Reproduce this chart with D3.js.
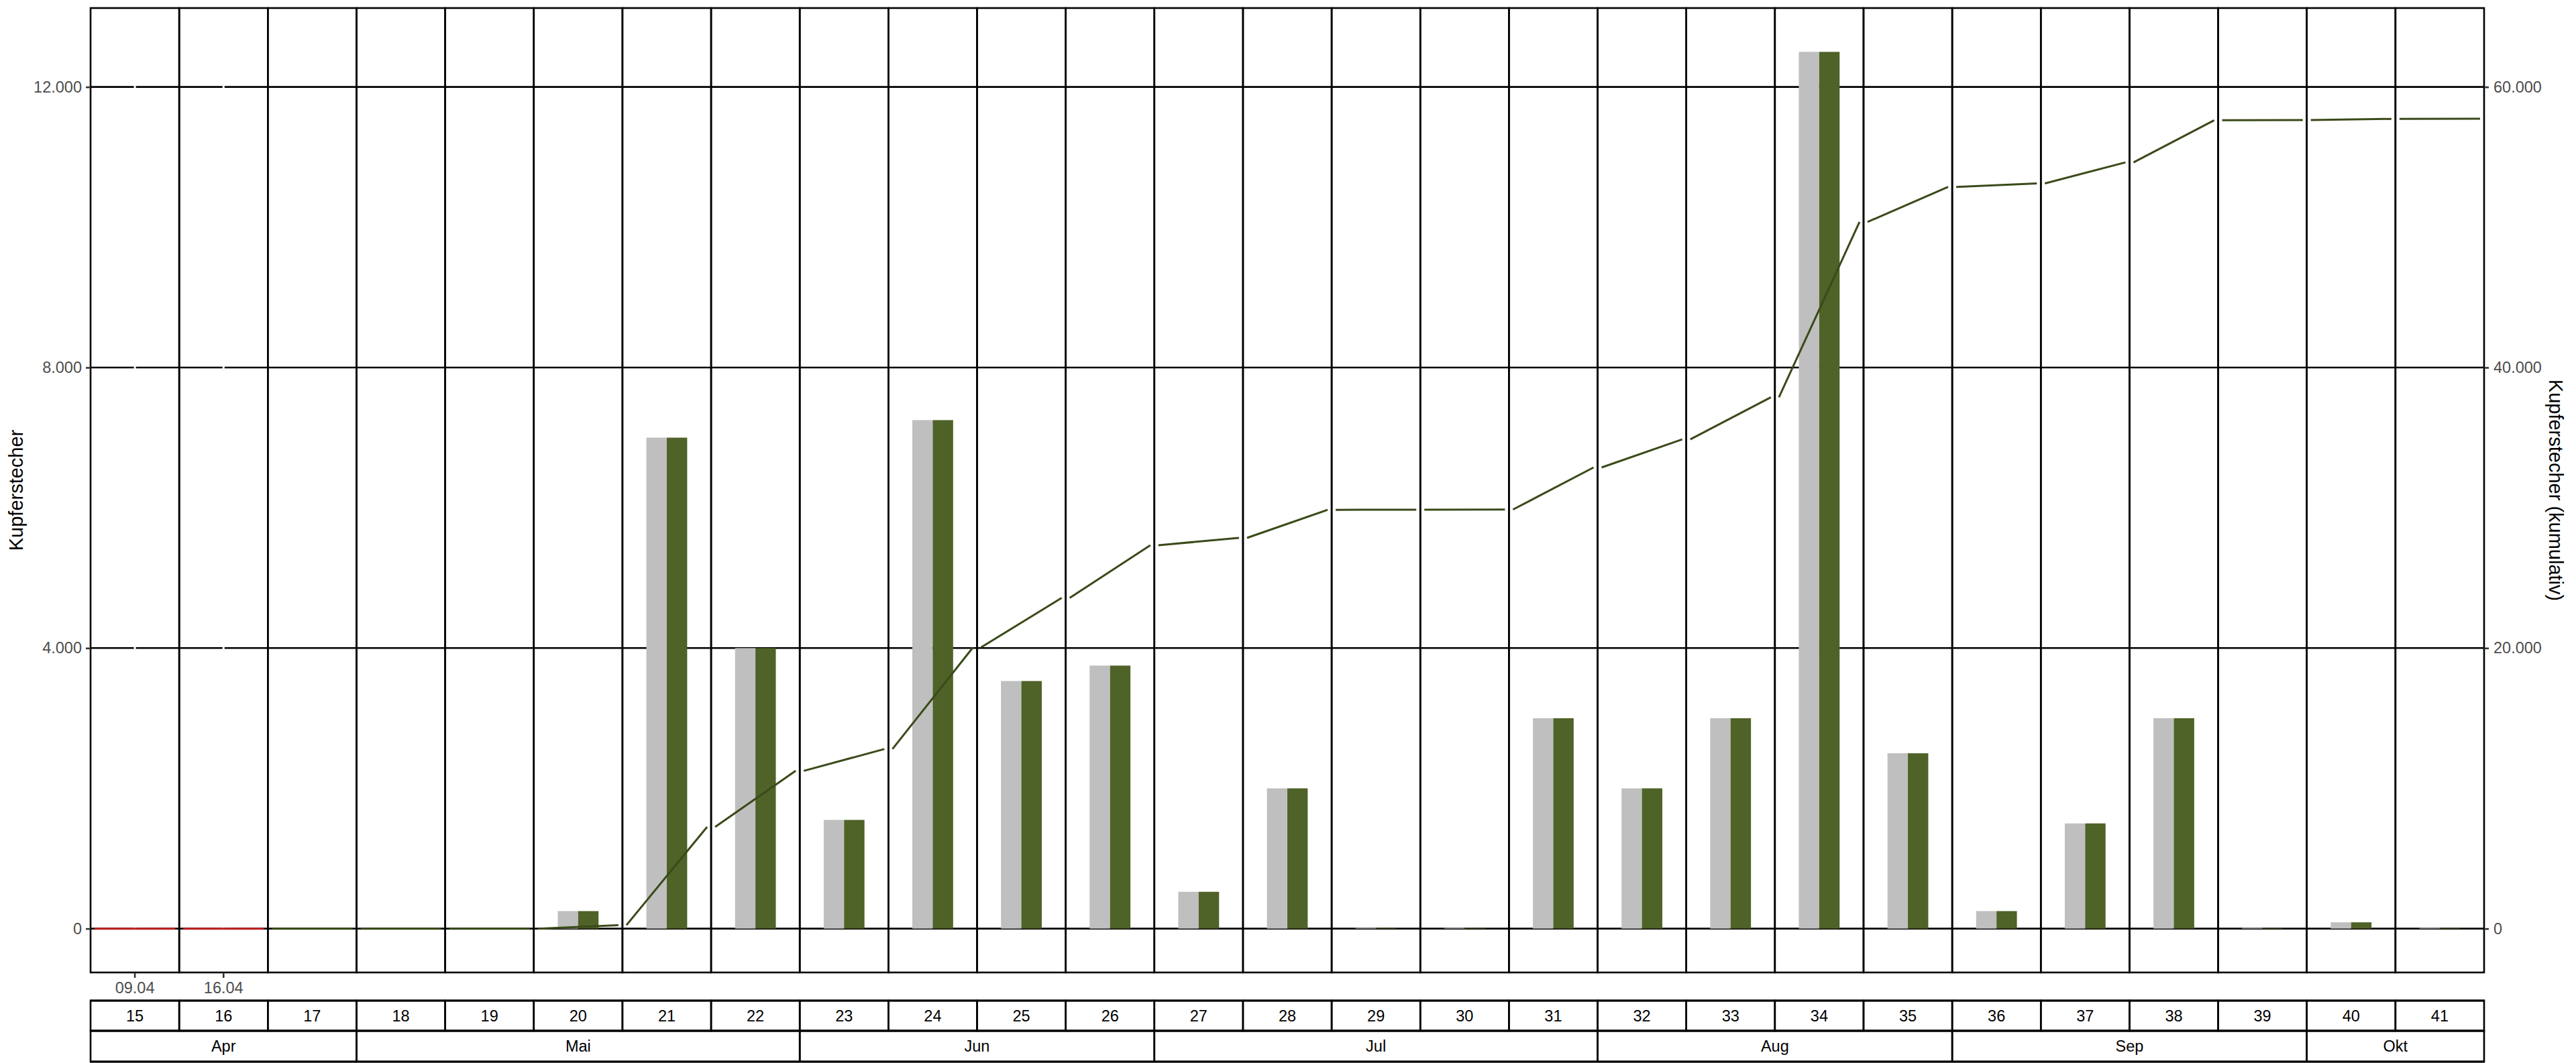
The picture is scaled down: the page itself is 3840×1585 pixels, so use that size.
<!DOCTYPE html>
<html>
<head>
<meta charset="utf-8">
<script src="https://cdn.jsdelivr.net/npm/d3@7"></script>
<style>
  body { margin: 0; background: #fff; }
  text { font-family: "Liberation Sans", Arial, sans-serif; }
</style>
</head>
<body>
<div id="chart"></div>
<script>
// Kalenderwochen
const weeks = [15, 16, 17, 18, 19, 20, 21, 22, 23, 24, 25, 26, 27, 28, 29, 30, 31, 32, 33, 34, 35, 36, 37, 38, 39, 40, 41];
// Kupferstecher je Woche (grau / grün, gleiche Werte)
const greyValues  = [0, 0, 0, 0, 0, 250, 7000, 4000, 1550, 7250, 3530, 3750, 525, 2000, 10, 10, 3000, 2000, 3000, 12500, 2500, 250, 1500, 3000, 10, 90, 10];
const greenValues = [0, 0, 0, 0, 0, 250, 7000, 4000, 1550, 7250, 3530, 3750, 525, 2000, 10, 10, 3000, 2000, 3000, 12500, 2500, 250, 1500, 3000, 10, 90, 10];
// kumuliert, Stand am Wochenende
const cumValues = [0, 0, 0, 0, 0, 250, 7250, 11250, 12800, 20050, 23580, 27330, 27855, 29855, 29865, 29875, 32875, 34875, 37875, 50375, 52875, 53125, 54625, 57625, 57635, 57725, 57735];
// Wochen ohne Saison (rote Linie)
const redWeeks = [15, 16];

const leftTicks = [0, 4000, 8000, 12000];
const rightTicks = [0, 20000, 40000, 60000];
const dateTickWeeks = [15, 16];
const dateTickLabels = ['09.04', '16.04'];

const monthNames = ['Apr', 'Mai', 'Jun', 'Jul', 'Aug', 'Sep', 'Okt'];
const monthFirstWeek = [15, 18, 23, 27, 32, 36, 40];
const monthLastWeek  = [17, 22, 26, 31, 35, 39, 41];

const W = 3840, H = 1585;
const margin = {top: 12, right: 137, bottom: 135, left: 135};
const plotLeft = margin.left, plotRight = W - margin.right;
const plotTop = margin.top, plotBottom = H - margin.bottom;

const de = d3.formatLocale({decimal: ',', thousands: '.', grouping: [3], currency: ['', ' €']});
const fmt = de.format(',');

const svg = d3.select('#chart').append('svg')
    .attr('width', W).attr('height', H);

const x = d3.scaleBand()
    .domain(weeks)
    .range([plotLeft, plotRight])
    .padding(0);

const y = d3.scaleLinear()
    .domain([-625, 13125])
    .range([plotBottom, plotTop]);

const yCum = d3.scaleLinear()
    .domain([-3125, 65625])
    .range([plotBottom, plotTop]);

const bw = x.bandwidth();
const sub = d3.scaleBand()
    .domain(['grey', 'green'])
    .range([bw / 2 - bw * 0.23, bw / 2 + bw * 0.23]);
const subColor = d3.scaleOrdinal().domain(['grey', 'green']).range(['#BFBFBF', '#4F6228']);

// Tage innerhalb einer Woche (Mo..So) mit 5% Erweiterung
const day = d3.scaleLinear().domain([-0.3, 6.3]).range([0, bw]);

// horizontale Gitterlinien
svg.append('g')
    .selectAll('line')
    .data(leftTicks)
    .enter().append('line')
    .attr('x1', plotLeft).attr('x2', plotRight)
    .attr('y1', d => y(d)).attr('y2', d => y(d))
    .attr('stroke', '#000').attr('stroke-width', 2.6);

// weiße x-Gitterlinien an den Datums-Ticks
svg.append('g')
    .selectAll('line')
    .data(dateTickWeeks)
    .enter().append('line')
    .attr('x1', d => x(d) + day(3)).attr('x2', d => x(d) + day(3))
    .attr('y1', plotTop).attr('y2', plotBottom)
    .attr('stroke', '#fff').attr('stroke-width', 3);

// Balken
const barData = [];
weeks.forEach((w, i) => {
    barData.push({week: w, key: 'grey', value: greyValues[i]});
    barData.push({week: w, key: 'green', value: greenValues[i]});
});

svg.append('g')
    .selectAll('rect')
    .data(barData)
    .enter().append('rect')
    .attr('x', d => x(d.week) + sub(d.key))
    .attr('width', sub.bandwidth())
    .attr('y', d => y(d.value))
    .attr('height', d => y(0) - y(d.value))
    .attr('fill', d => subColor(d.key));

// kumulierte Linie, je Woche ein Segment
const segs = weeks.map((w, i) => ({
    week: w,
    from: i === 0 ? 0 : cumValues[i - 1],
    to: cumValues[i],
    red: redWeeks.includes(w)
}));

svg.append('g')
    .selectAll('line')
    .data(segs)
    .enter().append('line')
    .attr('x1', d => x(d.week) + day(0))
    .attr('x2', d => x(d.week) + day(6))
    .attr('y1', d => yCum(d.from))
    .attr('y2', d => yCum(d.to))
    .attr('stroke', d => d.red ? '#C0201E' : '#3A4A1A')
    .attr('stroke-width', 3);

// Panel-Rahmen
svg.append('g')
    .selectAll('rect')
    .data(weeks)
    .enter().append('rect')
    .attr('x', d => x(d)).attr('width', bw)
    .attr('y', plotTop).attr('height', plotBottom - plotTop)
    .attr('fill', 'none')
    .attr('stroke', '#000').attr('stroke-width', 2.6);

// Achsen
const leftAxis = svg.append('g')
    .attr('transform', 'translate(' + plotLeft + ',0)')
    .call(d3.axisLeft(y).tickValues(leftTicks).tickFormat(fmt).tickSize(7).tickPadding(6));

const rightAxis = svg.append('g')
    .attr('transform', 'translate(' + plotRight + ',0)')
    .call(d3.axisRight(yCum).tickValues(rightTicks).tickFormat(fmt).tickSize(7).tickPadding(7));

const bottomAxis = svg.append('g')
    .attr('transform', 'translate(0,' + plotBottom + ')')
    .call(d3.axisBottom(x).tickValues(dateTickWeeks)
        .tickFormat((d, i) => dateTickLabels[i]).tickSize(8).tickPadding(6)
        .offset(0));
bottomAxis.selectAll('.tick').attr('transform', d => 'translate(' + (x(d) + day(3)) + ',0)');

[leftAxis, rightAxis, bottomAxis].forEach(a => {
    a.select('.domain').remove();
    a.selectAll('.tick line').attr('stroke', '#333').attr('stroke-width', 2.6);
    a.selectAll('.tick text')
        .attr('fill', '#4D4D4D')
        .style('font-size', '23.5px')
        .style('font-family', '"Liberation Sans", Arial, sans-serif');
});

// Achsentitel
svg.append('text')
    .attr('transform', 'translate(34,' + ((plotTop + plotBottom) / 2) + ') rotate(-90)')
    .attr('text-anchor', 'middle')
    .style('font-size', '29px')
    .text('Kupferstecher');

svg.append('text')
    .attr('transform', 'translate(3800,' + ((plotTop + plotBottom) / 2) + ') rotate(90)')
    .attr('text-anchor', 'middle')
    .style('font-size', '29px')
    .text('Kupferstecher (kumulativ)');

// Tabelle: Wochen und Monate
const rowTop = 1492, rowMid = 1537, rowBot = 1583;
const table = svg.append('g');

table.selectAll('rect.week')
    .data(weeks)
    .enter().append('rect')
    .attr('class', 'week')
    .attr('x', d => x(d)).attr('width', bw)
    .attr('y', rowTop).attr('height', rowMid - rowTop)
    .attr('fill', 'none').attr('stroke', '#000').attr('stroke-width', 2.6);

table.selectAll('text.week')
    .data(weeks)
    .enter().append('text')
    .attr('class', 'week')
    .attr('x', d => x(d) + bw / 2)
    .attr('y', (rowTop + rowMid) / 2)
    .attr('dy', '0.35em')
    .attr('text-anchor', 'middle')
    .style('font-size', '23.5px')
    .text(d => d);

table.selectAll('rect.month')
    .data(monthNames)
    .enter().append('rect')
    .attr('class', 'month')
    .attr('x', (d, i) => x(monthFirstWeek[i]))
    .attr('width', (d, i) => x(monthLastWeek[i]) + bw - x(monthFirstWeek[i]))
    .attr('y', rowMid).attr('height', rowBot - rowMid)
    .attr('fill', 'none').attr('stroke', '#000').attr('stroke-width', 2.6);

table.selectAll('text.month')
    .data(monthNames)
    .enter().append('text')
    .attr('class', 'month')
    .attr('x', (d, i) => (x(monthFirstWeek[i]) + x(monthLastWeek[i]) + bw) / 2)
    .attr('y', (rowMid + rowBot) / 2)
    .attr('dy', '0.35em')
    .attr('text-anchor', 'middle')
    .style('font-size', '23.5px')
    .text(d => d);

// kräftigere Außenlinien der Tabelle
table.append('line')
    .attr('x1', plotLeft - 1).attr('x2', plotRight + 1)
    .attr('y1', rowTop).attr('y2', rowTop)
    .attr('stroke', '#000').attr('stroke-width', 3.2);
table.append('line')
    .attr('x1', plotLeft - 1).attr('x2', plotRight + 1)
    .attr('y1', rowMid).attr('y2', rowMid)
    .attr('stroke', '#000').attr('stroke-width', 3.2);
table.append('line')
    .attr('x1', plotLeft - 1).attr('x2', plotRight + 1)
    .attr('y1', rowBot).attr('y2', rowBot)
    .attr('stroke', '#000').attr('stroke-width', 3.2);
</script>
</body>
</html>
